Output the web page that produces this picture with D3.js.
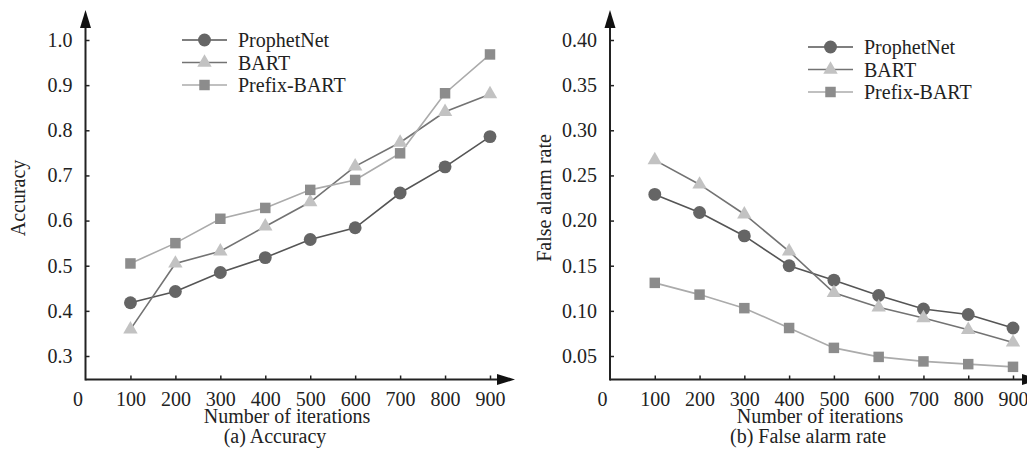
<!DOCTYPE html>
<html lang="en">
<head>
<meta charset="UTF-8">
<title>accuracy_far</title>
<script src="https://cdn.jsdelivr.net/npm/d3@7/dist/d3.min.js"></script>
<style>
  body { margin: 0; background: #fff; }
  text { font-family: "Liberation Serif", "Times New Roman", serif; fill: #222; }
</style>
</head>
<body>
<svg width="1027" height="454" id="mainsvg"></svg>
<script>
// data
const iterations = [100, 200, 300, 400, 500, 600, 700, 800, 900];
const xTicks = [0, 100, 200, 300, 400, 500, 600, 700, 800, 900];
const seriesNames = ['ProphetNet', 'BART', 'Prefix-BART'];

const accProphetNet = [0.418, 0.443, 0.485, 0.518, 0.558, 0.584, 0.661, 0.719, 0.786];
const accBART       = [0.359, 0.505, 0.532, 0.587, 0.641, 0.720, 0.773, 0.841, 0.880];
const accPrefixBART = [0.505, 0.550, 0.604, 0.628, 0.668, 0.690, 0.749, 0.882, 0.968];
const accTicks = [0.3, 0.4, 0.5, 0.6, 0.7, 0.8, 0.9, 1.0];

const farProphetNet = [0.229, 0.209, 0.183, 0.150, 0.134, 0.117, 0.102, 0.096, 0.081];
const farBART       = [0.267, 0.240, 0.207, 0.166, 0.120, 0.104, 0.092, 0.079, 0.065];
const farPrefixBART = [0.131, 0.118, 0.103, 0.081, 0.059, 0.049, 0.044, 0.041, 0.038];
const farTicks = [0.05, 0.10, 0.15, 0.20, 0.25, 0.30, 0.35, 0.40];

const styles = {
    'ProphetNet':  { line: '#555', fill: '#656565', shape: d3.symbolCircle, size: 130 },
    'BART':        { line: '#737373', fill: '#c2c2c2', shape: d3.symbolTriangle, size: 90 },
    'Prefix-BART': { line: '#ababab', fill: '#8c8c8c', shape: d3.symbolSquare, size: 110 }
};

const svg = d3.select('#mainsvg');
const baseY = 379.5;

function drawPanel(p) {
    const g = svg.append('g');
    const x = d3.scaleLinear().domain([0, 900]).range([p.x0, p.x900]);
    const y = d3.scaleLinear().domain([p.yTicks[0], p.yTicks[p.yTicks.length - 1]]).range([356, 40]);

    // axes (ticks point inward)
    const xAxis = d3.axisBottom(x).tickValues(xTicks).tickSize(-4).tickPadding(12).tickFormat(d3.format('d'));
    const gx = g.append('g').attr('transform', `translate(0,${baseY})`).call(xAxis);
    gx.select('.domain').remove();
    gx.selectAll('.tick line').attr('stroke', '#222').attr('stroke-width', 1.5);
    gx.selectAll('.tick').filter(d => d === 0).select('line').remove();
    gx.selectAll('.tick').filter(d => d === 0).select('text').attr('dx', -8);
    gx.selectAll('text').attr('font-size', 20);

    const yAxis = d3.axisLeft(y).tickValues(p.yTicks).tickSize(-4).tickPadding(13).tickFormat(d3.format(p.fmt));
    const gy = g.append('g').attr('transform', `translate(${p.x0},0)`).call(yAxis);
    gy.select('.domain').remove();
    gy.selectAll('.tick line').attr('stroke', '#222').attr('stroke-width', 1.5);
    gy.selectAll('text').attr('font-size', 20);

    // axis lines with arrows
    g.append('line').attr('x1', p.x0).attr('x2', p.xEnd - 16).attr('y1', baseY).attr('y2', baseY)
        .attr('stroke', '#222').attr('stroke-width', 2);
    g.append('path').attr('d', `M${p.xEnd},${baseY}L${p.xEnd - 18},${baseY - 5.5}L${p.xEnd - 18},${baseY + 5.5}Z`).attr('fill', '#111');
    g.append('line').attr('x1', p.x0).attr('x2', p.x0).attr('y1', baseY + 1).attr('y2', 26)
        .attr('stroke', '#222').attr('stroke-width', 2);
    g.append('path').attr('d', `M${p.x0},10L${p.x0 - 5.5},28L${p.x0 + 5.5},28Z`).attr('fill', '#111');

    // lines and markers
    const line = d3.line().x((d, i) => x(iterations[i])).y(d => y(d));
    p.series.forEach((vals, k) => {
        const st = styles[seriesNames[k]];
        g.append('path').datum(vals).attr('d', line)
            .attr('fill', 'none').attr('stroke', st.line).attr('stroke-width', 1.6);
    });
    p.series.forEach((vals, k) => {
        const st = styles[seriesNames[k]];
        g.selectAll(null).data(vals).join('path')
            .attr('transform', (d, i) => `translate(${x(iterations[i])},${y(d)})`)
            .attr('d', d3.symbol().type(st.shape).size(st.size))
            .attr('fill', st.fill);
    });

    // legend
    seriesNames.forEach((name, k) => {
        const st = styles[name];
        const ly = p.legY + k * 22.5;
        g.append('line').attr('x1', p.legX).attr('x2', p.legX + 45).attr('y1', ly).attr('y2', ly)
            .attr('stroke', st.line).attr('stroke-width', 1.6);
        g.append('path').attr('transform', `translate(${p.legX + 22.5},${ly})`)
            .attr('d', d3.symbol().type(st.shape).size(st.size)).attr('fill', st.fill);
        g.append('text').attr('x', p.legX + 56).attr('y', ly + 7).attr('font-size', 20).text(name);
    });

    // titles
    g.append('text').attr('transform', `translate(${p.yLabX},198) rotate(-90)`)
        .attr('text-anchor', 'middle').attr('font-size', 20).text(p.yLabel);
    g.append('text').attr('x', p.xLabX).attr('y', 423).attr('text-anchor', 'middle')
        .attr('font-size', 20).text('Number of iterations');
    g.append('text').attr('x', p.capX).attr('y', 443).attr('text-anchor', 'middle')
        .attr('font-size', 20).text(p.caption);
}

drawPanel({
    x0: 85.5, x900: 490, xEnd: 515,
    yTicks: accTicks, fmt: '.1f',
    series: [accProphetNet, accBART, accPrefixBART],
    legX: 182, legY: 40,
    yLabX: 25, yLabel: 'Accuracy',
    xLabX: 287, capX: 275, caption: '(a) Accuracy'
});

drawPanel({
    x0: 610, x900: 1013, xEnd: 1040,
    yTicks: farTicks, fmt: '.2f',
    series: [farProphetNet, farBART, farPrefixBART],
    legX: 808, legY: 47,
    yLabX: 551, yLabel: 'False alarm rate',
    xLabX: 820, capX: 808, caption: '(b) False alarm rate'
});
</script>
</body>
</html>
